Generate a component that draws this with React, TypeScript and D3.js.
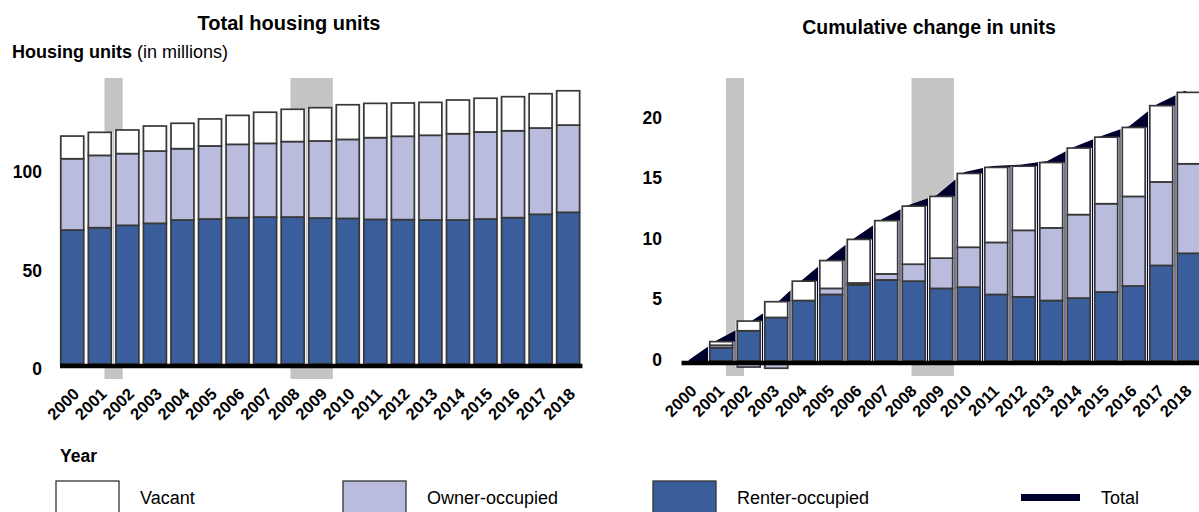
import { useEffect, useRef } from 'react';
import * as d3 from 'd3';

const years = ['2000', '2001', '2002', '2003', '2004', '2005', '2006', '2007', '2008', '2009',
  '2010', '2011', '2012', '2013', '2014', '2015', '2016', '2017', '2018'];

// total housing units, millions
const renterUnits = [68.0, 69.2, 70.4, 71.4, 73.1, 73.6, 74.3, 74.6, 74.6, 74.1, 73.9, 73.4, 73.3, 73.1, 73.1, 73.6, 74.3, 76.0, 77.0];
const ownerUnits = [36.2, 36.7, 36.4, 36.7, 36.2, 37.1, 37.2, 37.4, 38.3, 39.1, 40.1, 41.5, 42.3, 43.0, 43.8, 44.2, 44.1, 43.8, 44.3];
const vacantUnits = [11.5, 11.7, 12.0, 12.7, 12.9, 13.7, 14.7, 15.8, 16.4, 16.9, 17.6, 17.4, 16.9, 16.7, 17.1, 17.1, 17.3, 17.4, 17.4];

// cumulative change since 2000, millions
const renterChange = [0, 1.1, 2.5, 3.6, 5.0, 5.5, 6.3, 6.7, 6.6, 6.0, 6.1, 5.5, 5.3, 5.0, 5.2, 5.7, 6.2, 7.9, 8.9];
const ownerChange = [0, 0.2, -0.5, -0.6, -0.2, 0.5, 0.15, 0.5, 1.4, 2.5, 3.3, 4.3, 5.5, 6.0, 6.9, 7.3, 7.4, 6.9, 7.4];
const vacantChange = [0, 0.3, 0.8, 1.3, 1.6, 2.3, 3.6, 4.4, 4.8, 5.1, 6.1, 6.2, 5.3, 5.4, 5.5, 5.5, 5.7, 6.3, 5.9];

// recessions, as fractional years
const recessions = [[2001.17, 2001.83], [2007.92, 2009.46]];

const leftTicks = [0, 50, 100];
const rightTicks = [0, 5, 10, 15, 20];

const keys = ['renter', 'owner', 'vacant'];
const colors = { renter: '#3A5E9C', owner: '#B9BCDD', vacant: '#FFFFFF' };
const FONT = '"Liberation Sans", Arial, Helvetica, sans-serif';

function drawPanel(svg, opt) {
  const { rows, x0, step, y0, pxPerUnit, domain, ticks, tickRight, tickDy, labelDx, withTotal } = opt;
  const g = svg.append('g');
  const x = d3.scaleBand().domain(years)
    .range([x0 - 0.055 * step, x0 - 0.055 * step + years.length * step])
    .paddingInner(0.11).paddingOuter(0.055);
  const y = d3.scaleLinear().domain(domain).range([y0 - domain[0] * pxPerUnit, y0 - domain[1] * pxPerUnit]);
  const bw = x.bandwidth();
  const cx = d => x(d) + bw / 2;
  const xYear = d3.scaleLinear().domain([2000, 2018]).range([cx('2000'), cx('2018')]);

  // recession shading
  g.selectAll('.rec').data(recessions).join('rect')
    .attr('x', d => xYear(d[0])).attr('width', d => xYear(d[1]) - xYear(d[0]))
    .attr('y', 78).attr('height', y(0) + 15 - 78)
    .attr('fill', '#C4C4C4');

  const stacked = d3.stack().keys(keys).offset(d3.stackOffsetDiverging)(rows);

  if (withTotal) {
    const area = d3.area()
      .x(d => x(d.year) + bw * 0.35)
      .y0(y(0))
      .y1(d => y(d.renter + d.owner + d.vacant));
    g.append('path').datum(rows).attr('d', area)
      .attr('fill', '#00002E').attr('stroke', '#00002E').attr('stroke-width', 3)
      .attr('stroke-linejoin', 'round');
  }

  // light underlay so gaps stay pale
  g.selectAll('.under').data(rows).join('rect')
    .attr('x', d => x(d.year) - 1).attr('width', bw + 2)
    .attr('y', d => y(d.renter + Math.max(d.owner, 0) + d.vacant))
    .attr('height', d => y(Math.min(d.owner, 0)) - y(d.renter + Math.max(d.owner, 0) + d.vacant))
    .attr('fill', '#F2F2F2');

  stacked.forEach(layer => {
    g.append('g').selectAll('rect').data(layer.filter(d => Math.abs(d[1] - d[0]) > 0.001)).join('rect')
      .attr('x', d => x(d.data.year) + 0.8).attr('width', bw - 1.6)
      .attr('y', d => y(Math.max(d[0], d[1])))
      .attr('height', d => Math.abs(y(d[0]) - y(d[1])))
      .attr('fill', colors[layer.key])
      .attr('stroke', '#383838').attr('stroke-width', 1.7);
  });

  // baseline
  g.append('line')
    .attr('x1', x('2000')).attr('x2', x('2018') + bw + 2)
    .attr('y1', y(0) + 2).attr('y2', y(0) + 2)
    .attr('stroke', '#000').attr('stroke-width', 4.5);

  g.selectAll('.ytick').data(ticks).join('text')
    .attr('x', tickRight).attr('y', d => y(d) + tickDy)
    .attr('text-anchor', 'end').attr('dominant-baseline', 'central')
    .attr('font-family', FONT).attr('font-weight', 'bold').attr('font-size', 17.5)
    .text(d => d);

  g.selectAll('.xtick').data(years).join('text')
    .attr('transform', d => `translate(${cx(d) + labelDx}, ${y(0) + 31}) rotate(-45)`)
    .attr('text-anchor', 'end')
    .attr('font-family', FONT).attr('font-weight', 'bold').attr('font-size', 16.5)
    .text(d => d);
}

function App() {
  const svgRef = useRef(null);

  useEffect(() => {
    const svg = d3.select(svgRef.current);
    svg.selectAll('*').remove();

    const unitRows = years.map((year, i) => ({ year, renter: renterUnits[i], owner: ownerUnits[i], vacant: vacantUnits[i] }));
    const changeRows = years.map((year, i) => ({ year, renter: renterChange[i], owner: ownerChange[i], vacant: vacantChange[i] }));

    drawPanel(svg, {
      rows: unitRows, x0: 60, step: 27.55, y0: 364, pxPerUnit: 1.97, domain: [0, 145],
      ticks: leftTicks, tickRight: 42, tickDy: 5, labelDx: 8, withTotal: false,
    });
    drawPanel(svg, {
      rows: changeRows, x0: 681.5, step: 27.5, y0: 361, pxPerUnit: 12.1, domain: [-1, 23],
      ticks: rightTicks, tickRight: 662, tickDy: -1.5, labelDx: 4, withTotal: true,
    });

    // titles
    const text = (x, y, s, size, weight, anchor = 'start') => svg.append('text')
      .attr('x', x).attr('y', y).attr('font-family', FONT).attr('font-size', size)
      .attr('font-weight', weight).attr('text-anchor', anchor).text(s);

    text(289, 30, 'Total housing units', 20, 'bold', 'middle');
    text(929, 34, 'Cumulative change in units', 19.5, 'bold', 'middle');
    const sub = text(12, 58, 'Housing units', 18, 'bold');
    sub.append('tspan').attr('font-weight', 'normal').text(' (in millions)');
    text(60, 462, 'Year', 17.5, 'bold');

    // legend
    const legend = [
      { label: 'Vacant', kind: 'box', fill: colors.vacant, x: 56 },
      { label: 'Owner-occupied', kind: 'box', fill: colors.owner, x: 343 },
      { label: 'Renter-occupied', kind: 'box', fill: colors.renter, x: 653 },
      { label: 'Total', kind: 'line', fill: '#00002E', x: 1021 },
    ];
    legend.forEach(d => {
      if (d.kind === 'box') {
        svg.append('rect').attr('x', d.x).attr('y', 481).attr('width', 63).attr('height', 40)
          .attr('fill', d.fill).attr('stroke', '#333').attr('stroke-width', 1.3);
        text(d.x + 84, 504, d.label, 18, 'normal');
      } else {
        svg.append('rect').attr('x', d.x).attr('y', 494).attr('width', 59).attr('height', 7).attr('fill', d.fill);
        text(d.x + 80, 504, d.label, 18, 'normal');
      }
    });
  }, []);

  return (
    <div style={{ position: 'absolute', left: 0, top: 0 }}>
      <svg ref={svgRef} width={1199} height={512} style={{ display: 'block', background: '#fff' }}></svg>
    </div>
  );
}

export default App;
